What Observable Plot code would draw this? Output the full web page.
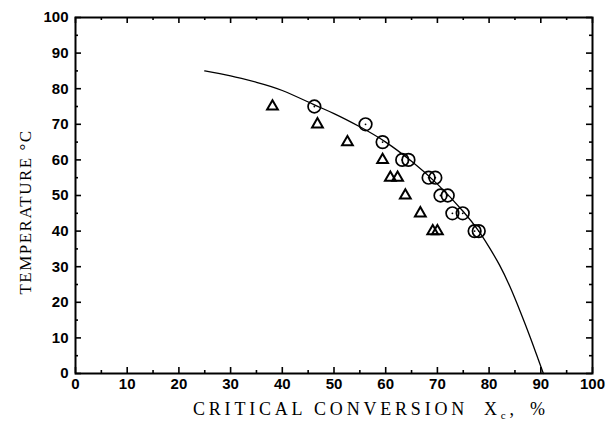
<!DOCTYPE html>
<html><head><meta charset="utf-8">
<script src="https://cdn.jsdelivr.net/npm/d3@7"></script>
<script src="https://cdn.jsdelivr.net/npm/@observablehq/plot@0.6"></script>
<style>
html,body{margin:0;padding:0;background:#fff;}
#chart{width:606px;height:422px;}
</style></head>
<body><div id="chart"></div>
<script>
// Open circles: measured critical conversion (%) vs temperature (°C)
const circleX = [46.2, 56.1, 59.4, 63.2, 64.4, 68.3, 69.6, 70.6, 72.0, 72.9, 74.9, 77.2, 78.0];
const circleT = [75, 70, 65, 60, 60, 55, 55, 50, 50, 45, 45, 40, 40];
// Triangles
const triX = [38.1, 46.8, 52.6, 59.4, 60.9, 62.3, 63.8, 66.7, 69.1, 70.0];
const triT = [75, 70, 65, 60, 55, 55, 50, 45, 40, 40];
// Predicted curve
const curveX = [25, 30, 35, 40, 46, 50, 55, 60, 65, 70, 75, 78, 80, 82, 84, 86, 88, 89.5, 90.5];
const curveT = [85, 83.6, 81.8, 79.5, 75.6, 73, 69.3, 65, 59.6, 53.2, 45.5, 40, 35.5, 30.5, 24.5, 17.5, 10, 4, 0];
const majorTicks = [0, 10, 20, 30, 40, 50, 60, 70, 80, 90, 100];
const minorTicks = [5, 15, 25, 35, 45, 55, 65, 75, 85, 95];

const circles = circleX.map((x, i) => ({x, t: circleT[i]}));
const tris = triX.map((x, i) => ({x, t: triT[i]}));
const curve = curveX.map((x, i) => ({x, t: curveT[i]}));

const W = 606, H = 422, ML = 75, MR = 14, MT = 17, MB = 49;
const IW = W - ML - MR, IH = H - MT - MB;

const tickStyle = {stroke: "#000", strokeWidth: 1.6};
const plot = Plot.plot({
  width: W, height: H,
  marginLeft: ML, marginRight: MR, marginTop: MT, marginBottom: MB,
  x: {domain: [0, 100], axis: null},
  y: {domain: [0, 100], axis: null},
  style: {fontFamily: "'Liberation Sans', Arial, sans-serif", fontSize: "15px", background: "#fff", color: "#000"},
  marks: [
    Plot.text(majorTicks, {x: d => d, frameAnchor: "bottom", dy: 15, text: d => String(d), fontWeight: "bold", fill: "#000"}),
    Plot.text(majorTicks, {y: d => d, frameAnchor: "left", dx: -7, textAnchor: "end", text: d => String(d), fontWeight: "bold", fill: "#000"}),
    Plot.tickX(majorTicks, {x: d => d, insetTop: IH - 6, ...tickStyle}),
    Plot.tickX(majorTicks, {x: d => d, insetBottom: IH - 6, ...tickStyle}),
    Plot.tickX(minorTicks, {x: d => d, insetTop: IH - 3, ...tickStyle}),
    Plot.tickX(minorTicks, {x: d => d, insetBottom: IH - 3, ...tickStyle}),
    Plot.tickY(majorTicks, {y: d => d, insetRight: IW - 6, ...tickStyle}),
    Plot.tickY(majorTicks, {y: d => d, insetLeft: IW - 6, ...tickStyle}),
    Plot.tickY(minorTicks, {y: d => d, insetRight: IW - 3, ...tickStyle}),
    Plot.tickY(minorTicks, {y: d => d, insetLeft: IW - 3, ...tickStyle}),
    Plot.frame({stroke: "#000", strokeWidth: 2}),
    Plot.line(curve, {x: "x", y: "t", stroke: "#000", strokeWidth: 1.3, curve: "natural"}),
    Plot.dot(circles, {x: "x", y: "t", r: 6.3, stroke: "#000", strokeWidth: 1.7, fill: "none"}),
    Plot.dot(circles, {x: "x", y: "t", r: 0.9, fill: "#000"}),
    Plot.dot(tris, {x: "x", y: "t", symbol: "triangle", r: 4, stroke: "#000", strokeWidth: 2, fill: "none"})
  ]
});
document.getElementById("chart").appendChild(plot);

const svg = d3.select(plot);
const serif = "'Liberation Serif', 'DejaVu Serif', serif";
const xl = svg.append("text").attr("y", 415).attr("text-anchor", "start")
  .attr("font-family", serif).attr("font-size", 18).attr("letter-spacing", "3.8px").attr("fill", "#000");
xl.append("tspan").attr("x", 193).text("CRITICAL CONVERSION");
xl.append("tspan").attr("x", 484).text("X");
xl.append("tspan").attr("font-size", 11).attr("dy", 4).text("c");
xl.append("tspan").attr("dy", -4).text(",");
xl.append("tspan").attr("x", 530).text("%");
svg.append("text").attr("transform", "translate(31,212) rotate(-90)").attr("text-anchor", "middle")
  .attr("font-family", serif).attr("font-size", 17).attr("letter-spacing", "1.5px").attr("fill", "#000")
  .text("TEMPERATURE \u00B0C");
</script></body></html>
